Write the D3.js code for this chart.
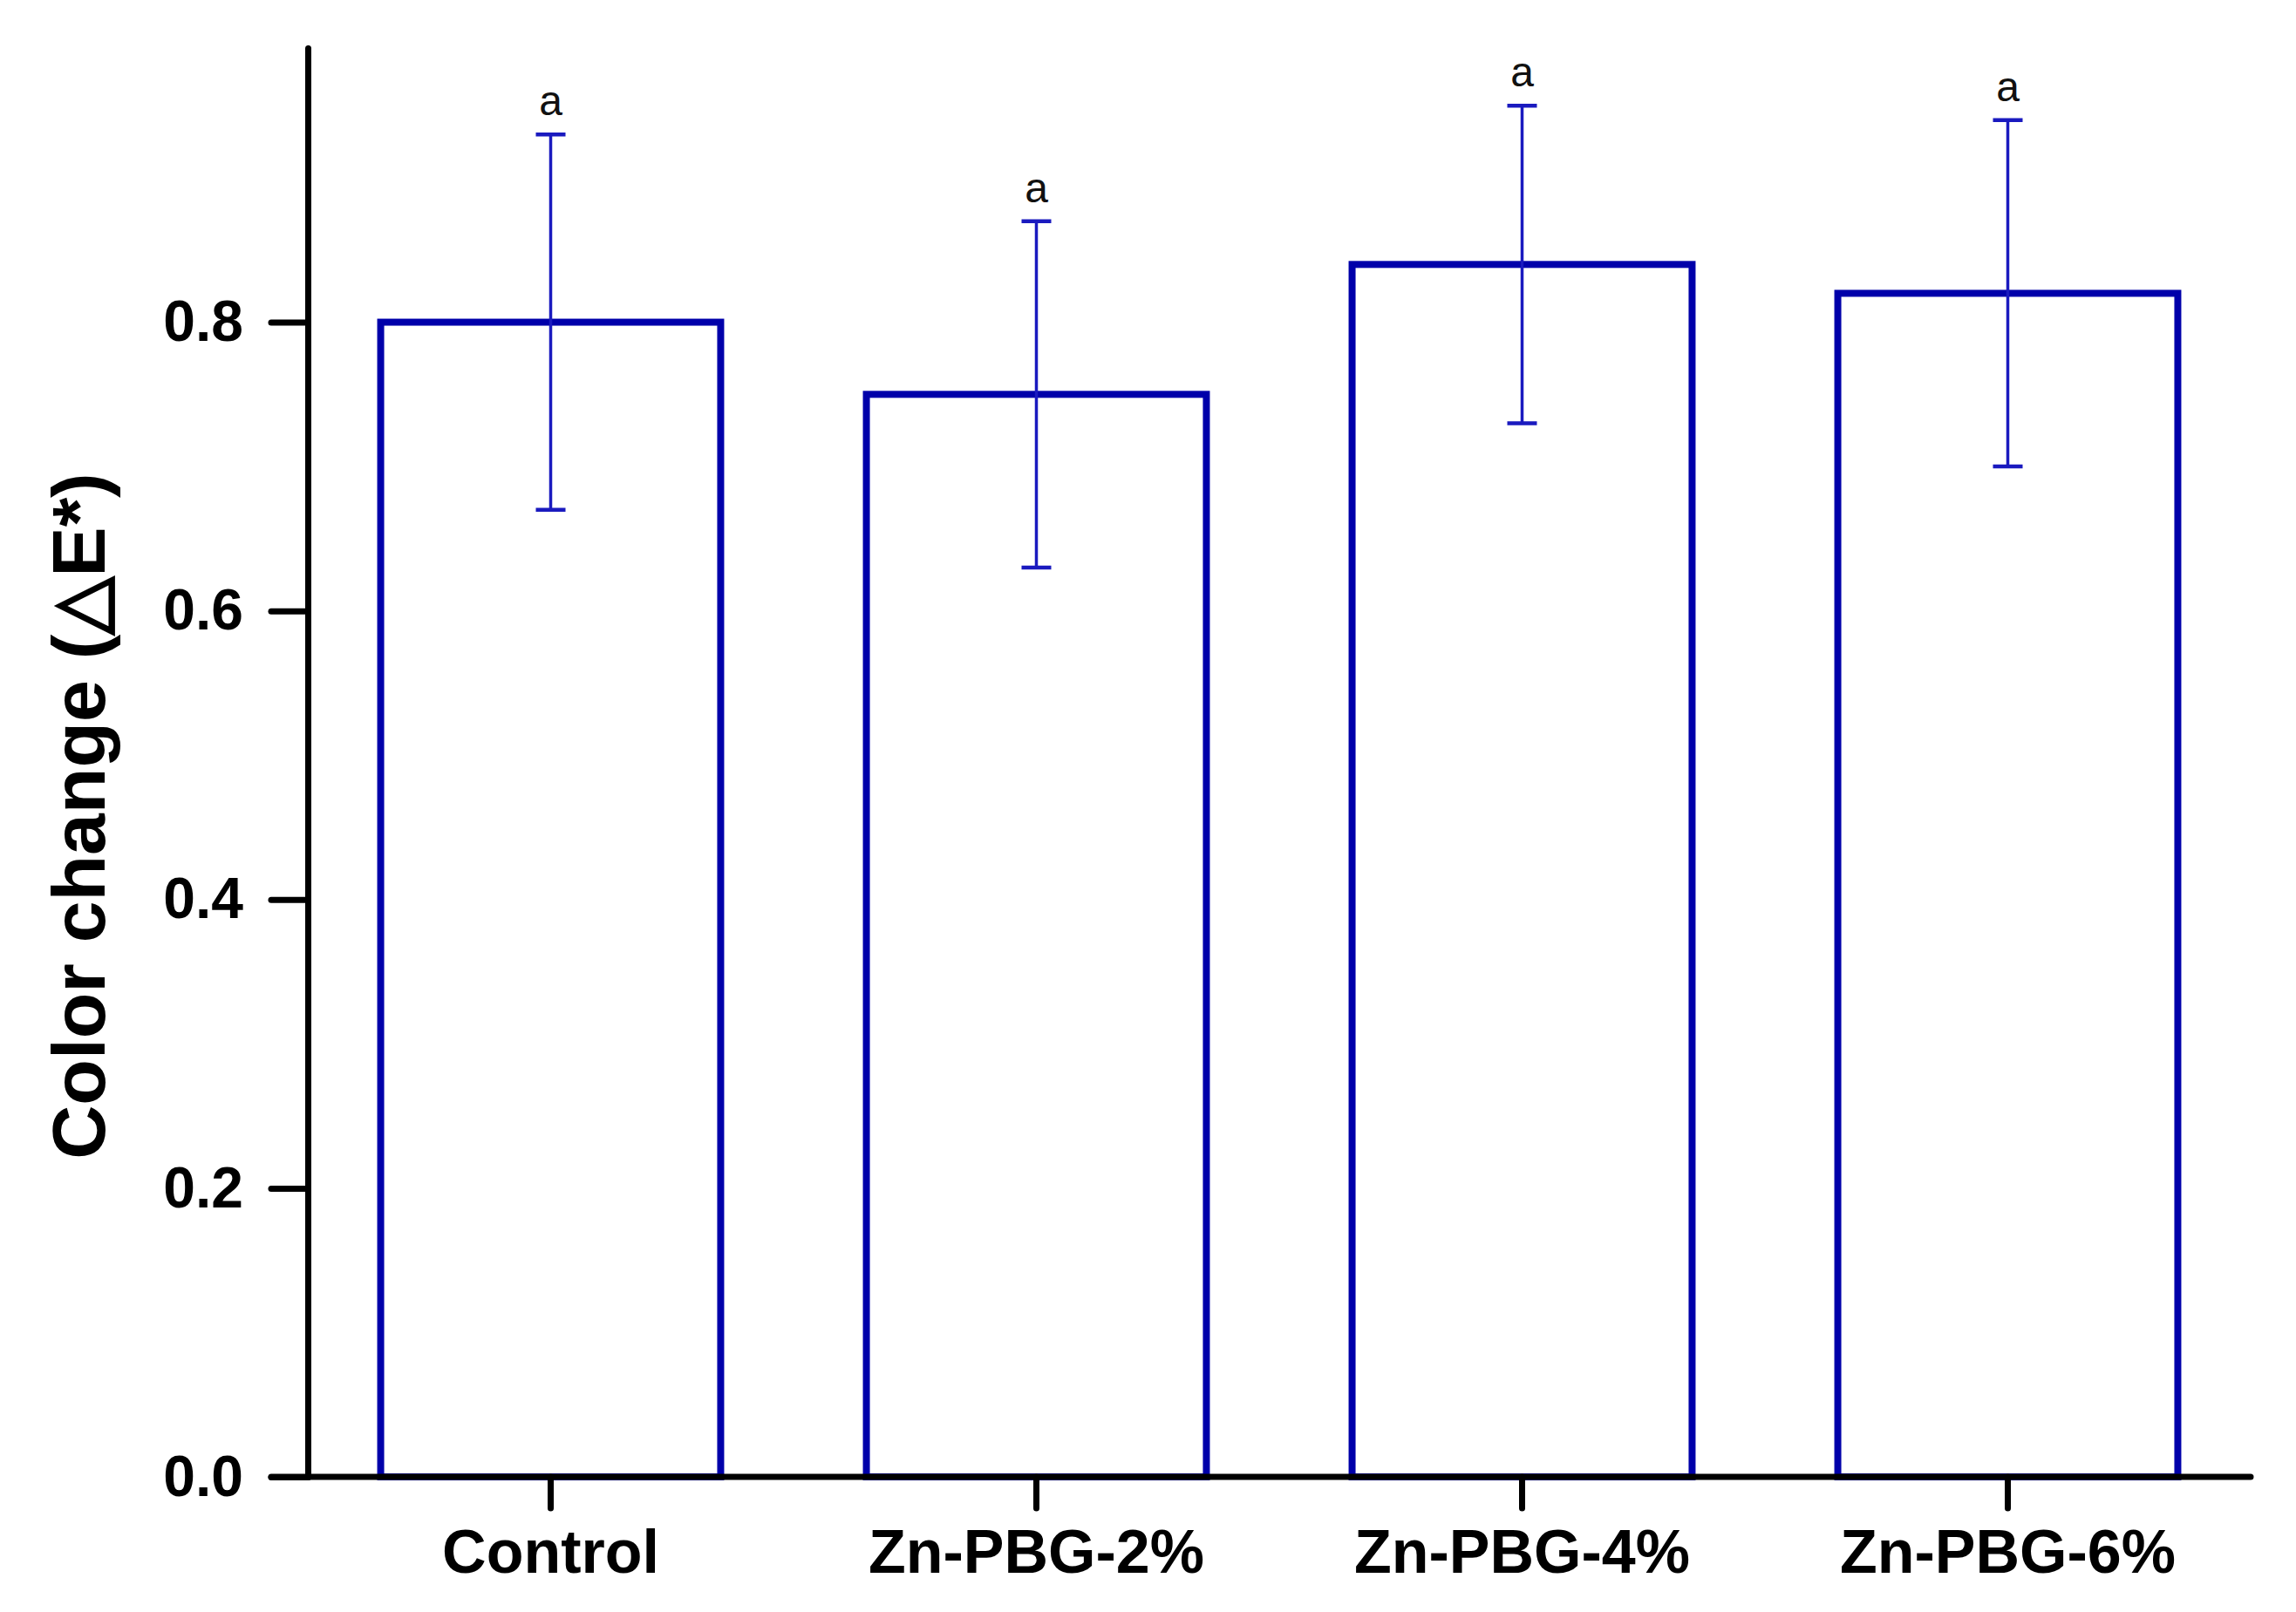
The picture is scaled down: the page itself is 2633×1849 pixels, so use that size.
<!DOCTYPE html>
<html><head><meta charset="utf-8">
<script src="https://cdn.jsdelivr.net/npm/d3@7"></script>
<style>body{margin:0;background:#fff}</style>
</head><body>
<script>
const categories = ["Control", "Zn-PBG-2%", "Zn-PBG-4%", "Zn-PBG-6%"];
const means = [0.80, 0.75, 0.84, 0.82];
const errors = [0.13, 0.12, 0.11, 0.12];
const letters = ["a", "a", "a", "a"];
const yTicks = [0.0, 0.2, 0.4, 0.6, 0.8];
const yTitle = "Color change (\u25B3E*)";

const W = 2633, H = 1849;
const svg = d3.select("body").append("svg").attr("width", W).attr("height", H)
  .style("font-family", "'Liberation Sans', Arial, sans-serif");

const x = d3.scaleBand().domain(categories).range([353, 2581]).paddingInner(0.3).paddingOuter(0.15);
const y = d3.scaleLinear().domain([0, 0.99]).range([1694, 55]);

const blue = "#0000aa";
const eblue = "#1a1abf";

// bars
svg.selectAll("rect.bar").data(categories).join("rect")
  .attr("class", "bar")
  .attr("x", d => x(d))
  .attr("y", (d, i) => y(means[i]))
  .attr("width", x.bandwidth())
  .attr("height", (d, i) => y(0) - y(means[i]))
  .attr("fill", "none").attr("stroke", blue).attr("stroke-width", 8);

// error bars
const cx = d => x(d) + x.bandwidth() / 2;
const eg = svg.append("g");
categories.forEach((c, i) => {
  const g = eg.append("g");
  g.append("line").attr("x1", cx(c)).attr("x2", cx(c))
    .attr("y1", y(means[i] + errors[i])).attr("y2", y(means[i] - errors[i]))
    .attr("stroke", eblue).attr("stroke-width", 3.5);
  [means[i] + errors[i], means[i] - errors[i]].forEach(v => {
    g.append("line").attr("x1", cx(c) - 17).attr("x2", cx(c) + 17)
      .attr("y1", y(v)).attr("y2", y(v))
      .attr("stroke", eblue).attr("stroke-width", 4.5);
  });
  svg.append("text").attr("x", cx(c)).attr("y", y(means[i] + errors[i]) - 22)
    .attr("text-anchor", "middle").attr("font-size", 48).attr("fill", "#111")
    .text(letters[i]);
});

// axes
const yAxis = d3.axisLeft(y).tickValues(yTicks).tickFormat(d3.format(".1f")).tickSize(42).tickSizeOuter(0).tickPadding(32);
const gy = svg.append("g").attr("transform", "translate(353,0)").call(yAxis);
gy.selectAll("path,line").attr("stroke", "#000").attr("stroke-width", 7).attr("stroke-linecap", "round");
gy.selectAll("text").attr("font-size", 66).attr("font-weight", "bold").attr("fill", "#000");

const xAxis = d3.axisBottom(x).tickSize(36).tickSizeOuter(0).tickPadding(24);
const gx = svg.append("g").attr("transform", "translate(0,1694)").call(xAxis);
gx.select("path").attr("d", "M311,0H2581");
gx.selectAll("path,line").attr("stroke", "#000").attr("stroke-width", 7).attr("stroke-linecap", "round");
gx.selectAll("text").attr("font-size", 70).attr("font-weight", "bold").attr("fill", "#000");

svg.append("text").attr("transform", "translate(120,936) rotate(-90)")
  .attr("text-anchor", "middle").attr("font-size", 86).attr("font-weight", "bold")
  .text(yTitle);
</script>
</body></html>
